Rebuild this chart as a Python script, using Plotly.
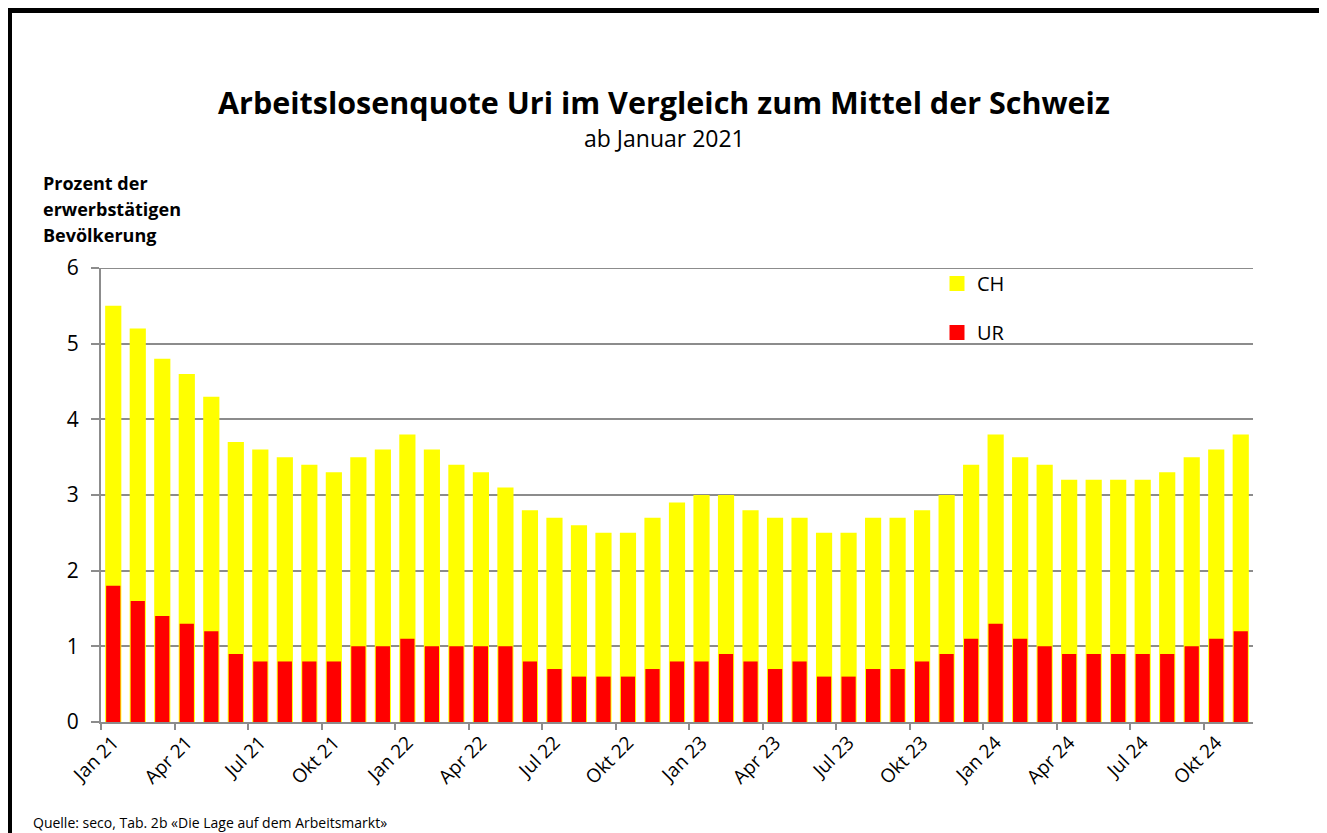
import plotly.graph_objects as go

months = ["Jan", "Feb", "Mär", "Apr", "Mai", "Jun", "Jul", "Aug", "Sep", "Okt", "Nov", "Dez"]
categories = [f"{m} {y}" for y in (21, 22, 23, 24) for m in months][:47]

ch_values = [5.5, 5.2, 4.8, 4.6, 4.3, 3.7, 3.6, 3.5, 3.4, 3.3, 3.5, 3.6,
             3.8, 3.6, 3.4, 3.3, 3.1, 2.8, 2.7, 2.6, 2.5, 2.5, 2.7, 2.9,
             3.0, 3.0, 2.8, 2.7, 2.7, 2.5, 2.5, 2.7, 2.7, 2.8, 3.0, 3.4,
             3.8, 3.5, 3.4, 3.2, 3.2, 3.2, 3.2, 3.3, 3.5, 3.6, 3.8]
ur_values = [1.8, 1.6, 1.4, 1.3, 1.2, 0.9, 0.8, 0.8, 0.8, 0.8, 1.0, 1.0,
             1.1, 1.0, 1.0, 1.0, 1.0, 0.8, 0.7, 0.6, 0.6, 0.6, 0.7, 0.8,
             0.8, 0.9, 0.8, 0.7, 0.8, 0.6, 0.6, 0.7, 0.7, 0.8, 0.9, 1.1,
             1.3, 1.1, 1.0, 0.9, 0.9, 0.9, 0.9, 0.9, 1.0, 1.1, 1.2]

FONT = "'Open Sans', sans-serif"
YELLOW, RED = "#FFFF00", "#FF0000"

fig = go.Figure()
fig.add_trace(go.Bar(x=categories, y=ch_values, name="CH", marker_color=YELLOW,
                     marker_line_width=0, width=0.66, showlegend=False))
fig.add_trace(go.Bar(x=categories, y=ur_values, name="UR", marker_color=RED,
                     marker_line_width=0, width=0.58, showlegend=False))
# legend entries with larger square symbols
for name, col in (("CH", YELLOW), ("UR", RED)):
    fig.add_trace(go.Scatter(x=[None], y=[None], mode="markers", name=name,
                             legendgroup=name,
                             marker=dict(symbol="square", size=15, color=col)))

W, H = 1327, 833
OFF = 8  # page body margin
L, R, T, B = 101, 1253, 268, 722

def px(x):
    return (x - L) / (R - L)

def py(y):
    return (B - y) / (B - T)

fig.update_layout(
    width=W - OFF, height=H - OFF,
    margin=dict(l=L - OFF, r=W - R, t=T - OFF, b=H - B, pad=0),
    barmode="overlay",
    paper_bgcolor="white", plot_bgcolor="white",
    font=dict(family=FONT, color="black"),
    showlegend=True,
    legend=dict(x=px(937), y=py(264), xanchor="left", yanchor="top",
                font=dict(size=20, family=FONT), tracegroupgap=20,
                bgcolor="rgba(0,0,0,0)", traceorder="grouped"),
    xaxis=dict(type="category", tickmode="linear", tick0=0, dtick=3,
               tickson="boundaries", ticks="outside", ticklen=6, tickcolor="#8c8c8c",
               tickwidth=2, showline=True, linecolor="#8c8c8c", linewidth=2,
               showgrid=False, tickangle=-45, tickfont=dict(size=19, family=FONT),
               range=[-0.5, 46.5]),
    yaxis=dict(range=[0, 6], tickvals=[0, 1, 2, 3, 4, 5, 6], showgrid=True,
               gridcolor="#8c8c8c", gridwidth=2,
               zeroline=False, showline=True, linecolor="#8c8c8c", linewidth=2,
               ticks="outside", ticklen=8, tickcolor="#8c8c8c", tickwidth=2,
               tickfont=dict(size=21, family=FONT), ticklabelstandoff=8),
)

ann = [
    dict(text="<b>Arbeitslosenquote Uri im Vergleich zum Mittel der Schweiz</b>",
         x=px(664), y=py(102), font=dict(size=30.5)),
    dict(text="ab Januar 2021", x=px(664), y=py(138), font=dict(size=23)),
    dict(text="<b>Prozent der</b>", x=px(41), y=py(183), xanchor="left", font=dict(size=18)),
    dict(text="<b>erwerbstätigen</b>", x=px(41), y=py(209), xanchor="left", font=dict(size=18)),
    dict(text="<b>Bevölkerung</b>", x=px(41), y=py(235), xanchor="left", font=dict(size=18)),
    dict(text="Quelle: seco, Tab. 2b «Die Lage auf dem Arbeitsmarkt»", x=px(31), y=py(822),
         xanchor="left", font=dict(size=14)),
]
for a in ann:
    a.setdefault("xanchor", "center")
    a.update(xref="paper", yref="paper", yanchor="middle", showarrow=False)
    a["font"]["family"] = FONT
    a["font"]["color"] = "black"
fig.update_layout(annotations=ann)

# top grid line at 6 (Plotly omits the grid line on the plot edge)
fig.add_shape(type="line", xref="paper", yref="y", x0=0, x1=1, y0=6, y1=6,
              line=dict(color="#8c8c8c", width=2), layer="below")
# black frame lines
fig.add_shape(type="line", xref="paper", yref="paper", x0=px(9.5), x1=px(9.5),
              y0=py(8), y1=py(900), line=dict(color="black", width=5))
fig.add_shape(type="line", xref="paper", yref="paper", x0=px(7), x1=px(1400),
              y0=py(10.5), y1=py(10.5), line=dict(color="black", width=5))

fig.write_html("out.html")
